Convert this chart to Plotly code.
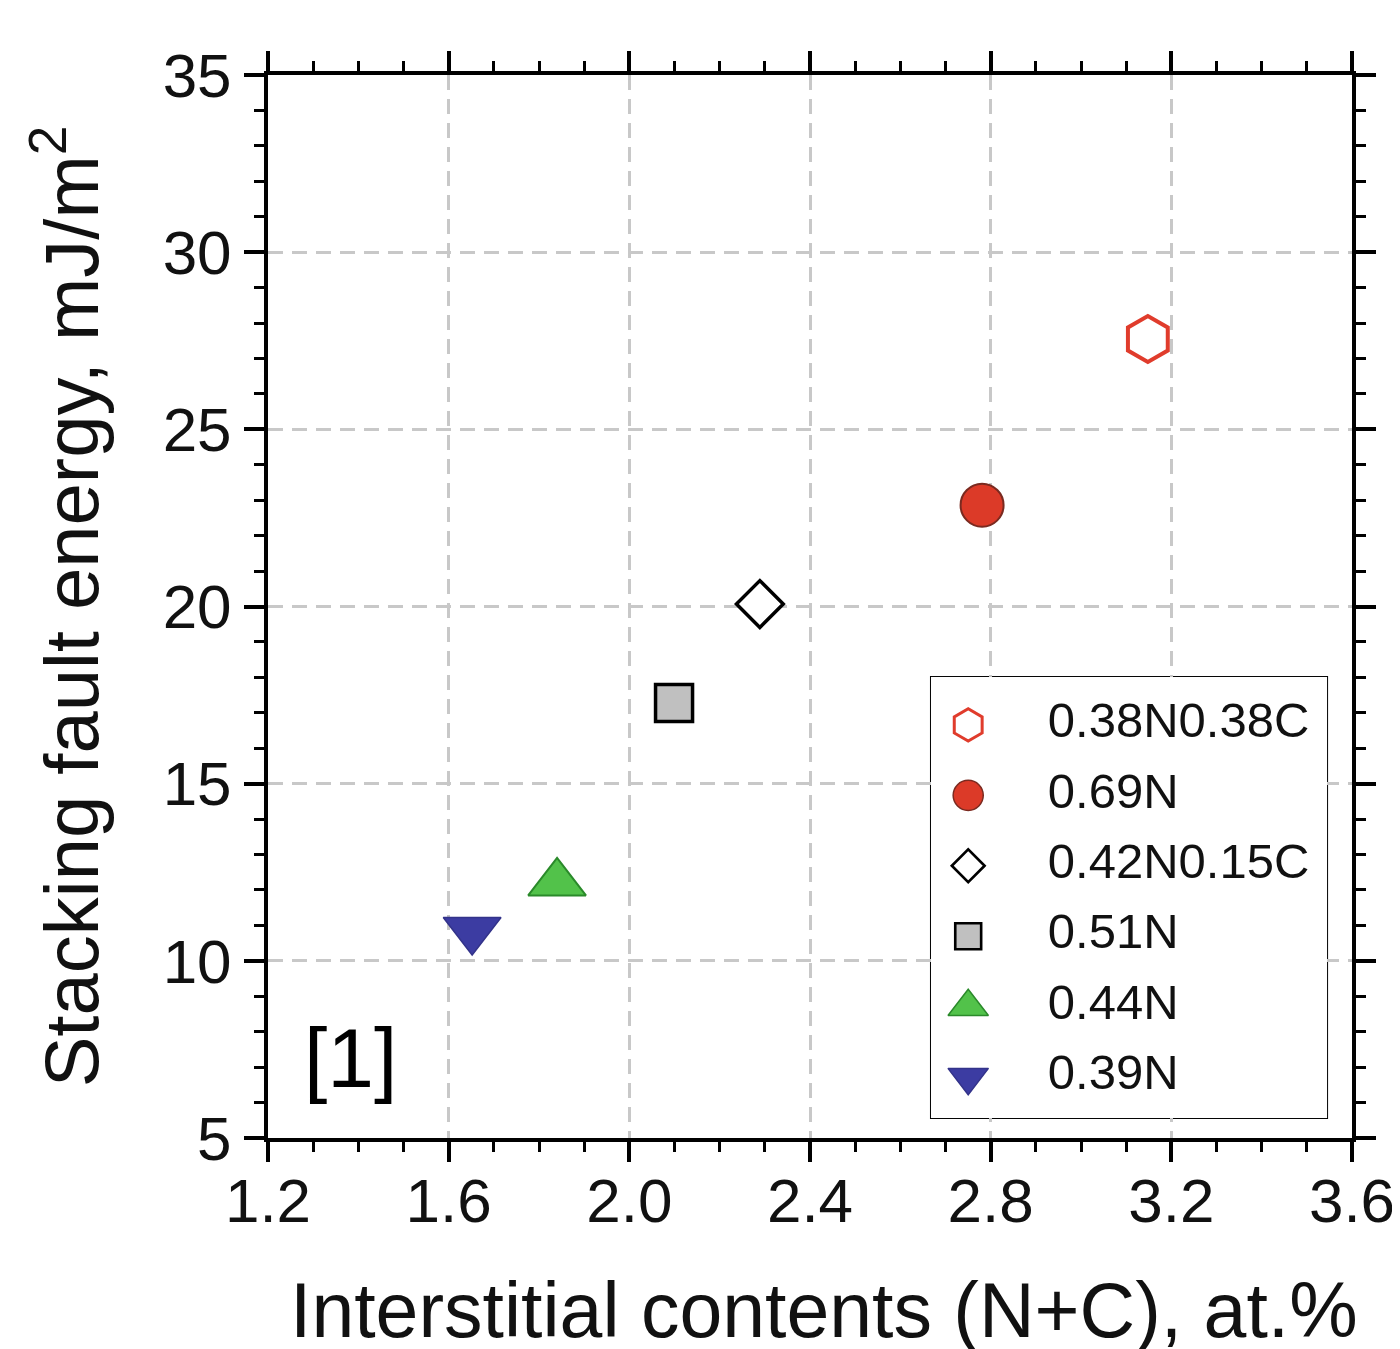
import plotly.graph_objects as go

# ---- data ----
labels = ["0.38N0.38C", "0.69N", "0.42N0.15C", "0.51N", "0.44N", "0.39N"]
x_vals = [3.148, 2.781, 2.289, 2.099, 1.84, 1.652]
y_vals = [27.55, 22.86, 20.07, 17.28, 12.2, 10.87]
symbols = ["hexagon-open", "circle", "diamond", "square", "triangle-up", "triangle-down"]
fills = ["#e03c2c", "#dc3a28", "#ffffff", "#c0c0c0", "#52c24a", "#3c3ca2"]
edges = ["#e03c2c", "#7a2a20", "#000000", "#000000", "#2a8a2a", "#33338a"]
edge_w = [4, 2, 3.5, 3.5, 2, 1.5]
sizes = [46, 43, 36, 37, 50, 50]

x_ticks = [1.2, 1.6, 2.0, 2.4, 2.8, 3.2, 3.6]
x_ticklabels = ["1.2", "1.6", "2.0", "2.4", "2.8", "3.2", "3.6"]
y_ticks = [5, 10, 15, 20, 25, 30, 35]

x_title = "Interstitial contents (N+C), at.%"
y_title = "Stacking fault energy, mJ/m<sup>2</sup>"

FONT = "Liberation Sans, Arial, sans-serif"

fig = go.Figure()

for i in range(len(labels)):
    fig.add_trace(go.Scatter(
        x=[x_vals[i]], y=[y_vals[i]], mode="markers", showlegend=False,
        marker=dict(symbol=symbols[i], size=sizes[i], color=fills[i],
                    line=dict(color=edges[i], width=edge_w[i])),
        xaxis="x", yaxis="y", name=labels[i]))

# custom legend in its own small subplot
rows = list(range(len(labels)))
for i in rows:
    fig.add_trace(go.Scatter(
        x=[0.094], y=[i], mode="markers", showlegend=False, hoverinfo="skip",
        marker=dict(symbol=symbols[i], size=sizes[i] * 0.7, color=fills[i],
                    line=dict(color=edges[i], width=max(edge_w[i] * 0.75, 1.5))),
        xaxis="x2", yaxis="y2"))
fig.add_trace(go.Scatter(
    x=[0.295] * len(labels), y=rows, mode="text", text=labels,
    textposition="middle right", showlegend=False, hoverinfo="skip",
    textfont=dict(family=FONT, size=49, color="#111111"),
    xaxis="x2", yaxis="y2"))

L0, L1 = 0.6116, 0.977
B0, B1 = 0.0188, 0.4337

fig.add_shape(type="rect", xref="paper", yref="paper", x0=L0, x1=L1, y0=B0, y1=B1,
              fillcolor="white", line=dict(color="black", width=2), layer="between")

fig.add_annotation(text="[1]", xref="x", yref="y", x=1.382, y=7.25, showarrow=False,
                   font=dict(family=FONT, size=84, color="black"))

fig.add_annotation(text=x_title, xref="paper", yref="paper", x=0.513, y=-0.162,
                   xanchor="center", yanchor="middle", showarrow=False,
                   font=dict(family=FONT, size=77, color="#111111"))

axis_common = dict(
    showline=True, linecolor="black", linewidth=4, mirror="allticks",
    ticks="outside", ticklen=20, tickwidth=4, tickcolor="black",
    showgrid=True, gridcolor="#c8c8c8", gridwidth=2.5, griddash="15px,9px",
    zeroline=False, automargin=False,
    tickfont=dict(family=FONT, size=62, color="#111111"),
)

# the page body adds an 8px offset, so the figure is 8px smaller and margins compensate
fig.update_layout(
    width=1392, height=1341,
    margin=dict(l=260, r=48, t=67, b=211),
    paper_bgcolor="white", plot_bgcolor="white",
    showlegend=False,
    xaxis=dict(range=[1.2, 3.6], tickvals=x_ticks, ticktext=x_ticklabels,
               ticklabelstandoff=-14,
               minor=dict(dtick=0.1, tick0=1.2, ticks="outside", ticklen=10, tickwidth=3,
                          tickcolor="black", showgrid=False),
               **axis_common),
    yaxis=dict(range=[5, 35], tickvals=y_ticks,
               minor=dict(dtick=1, tick0=5, ticks="outside", ticklen=10, tickwidth=3,
                          tickcolor="black", showgrid=False),
               title=dict(text=y_title,
                          font=dict(family=FONT, size=76, color="#111111"), standoff=40),
               **axis_common),
    xaxis2=dict(domain=[L0, L1], range=[0, 1], anchor="y2", visible=False, fixedrange=True),
    yaxis2=dict(domain=[B0, B1], range=[5.58, -0.68], anchor="x2", visible=False, fixedrange=True),
)

fig.write_html("out.html")
